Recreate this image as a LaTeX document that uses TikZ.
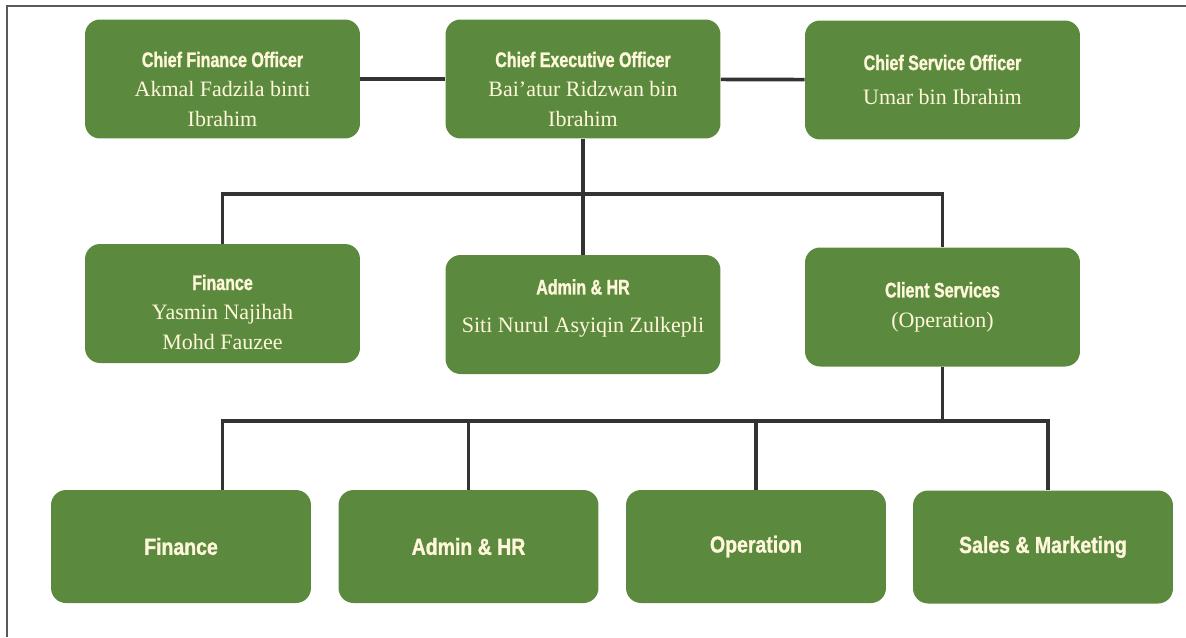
\documentclass[tikz,border=0pt]{standalone}
\usepackage{fontspec}
\setmainfont{Liberation Serif}
\newfontfamily\headfont[FakeStretch=0.76,FakeBold=1.2]{Liberation Sans}
\newfontfamily\bigheadfont[FakeStretch=0.84,FakeBold=1.2]{Liberation Sans}
\usepackage{xcolor}
\usepackage{tikz}
\usetikzlibrary{calc}

\definecolor{boxgreen}{HTML}{5B8A3E}
\definecolor{cream}{HTML}{FFF7DA}
\definecolor{linkgray}{HTML}{333333}
\newcommand{\role}[1]{{\headfont\bfseries\fontsize{12}{17}\selectfont #1}}
\newcommand{\unitname}[1]{{\bigheadfont\bfseries\fontsize{13.2}{17}\selectfont #1}}
\newcommand{\lift}[1]{\rule{0pt}{#1}}

\begin{document}
\begin{tikzpicture}[x=0.02cm, y=-0.02cm,
  orgbox/.style={fill=boxgreen, rounded corners=0.3cm, text=cream, align=center,
    minimum width=5.5cm, minimum height=2.38cm, inner sep=0pt,
    font=\fontsize{12.5}{17}\selectfont},
  unitbox/.style={orgbox, minimum width=5.2cm, minimum height=2.26cm},
  link/.style={linkgray, line width=2.1pt},
  frame/.style={black!65, line width=1.1pt}]
  \useasboundingbox (0,0) rectangle (1186,637);
  \draw[frame] (7,637) -- (7,6) -- (1186,6);
  % top level
  \node[orgbox] (cfo) at (222.5,79) {\lift{0.72cm}\role{Chief Finance Officer}\\ Akmal Fadzila binti\\ Ibrahim};
  \node[orgbox] (ceo) at (583,79) {\lift{0.72cm}\role{Chief Executive Officer}\\ Bai'atur Ridzwan bin\\ Ibrahim};
  \node[orgbox] (cso) at (942.5,80) {\role{Chief Service Officer}\\[0.1cm] Umar bin Ibrahim};
  % departments
  \node[orgbox] (fin) at (222.5,303.5) {\lift{0.66cm}\role{Finance}\\ Yasmin Najihah\\ Mohd Fauzee};
  \node[orgbox] (adm) at (583,314.5) {\role{Admin \& HR}\\[0.16cm] Siti Nurul Asyiqin Zulkepli\rule[-0.35cm]{0pt}{0pt}};
  \node[orgbox] (cs) at (942.5,307) {\role{Client Services}\\ (Operation)};
  % units
  \node[unitbox] (fin3) at (181,546.5) {\unitname{Finance}};
  \node[unitbox] (ad3) at (468.5,546.5) {\unitname{Admin \& HR}};
  \node[unitbox] (op) at (756,546.5) {\unitname{Operation}};
  \node[unitbox] (sm) at (1043,547) {\unitname{Sales \& Marketing}};
  % connectors
  \coordinate (bus1) at (0,194);
  \coordinate (bus2) at (0,421);
  \draw[link] (cfo) -- (ceo);
  \draw[link] (ceo) -- (cso);
  \draw[link] (ceo.south) -- (adm.north);
  \draw[link] (fin.north) |- (bus1 -| cs.north) -- (cs.north);
  \draw[link] (cs.south) -- (cs.south |- bus2);
  \draw[link] (fin3.north -| fin.south) |- ($(bus2 -| sm.north)+(5,0)$) -- ($(sm.north)+(5,0)$);
  \draw[link] (ad3.north) -- (ad3.north |- bus2);
  \draw[link] (op.north) -- (op.north |- bus2);
\end{tikzpicture}
\end{document}
